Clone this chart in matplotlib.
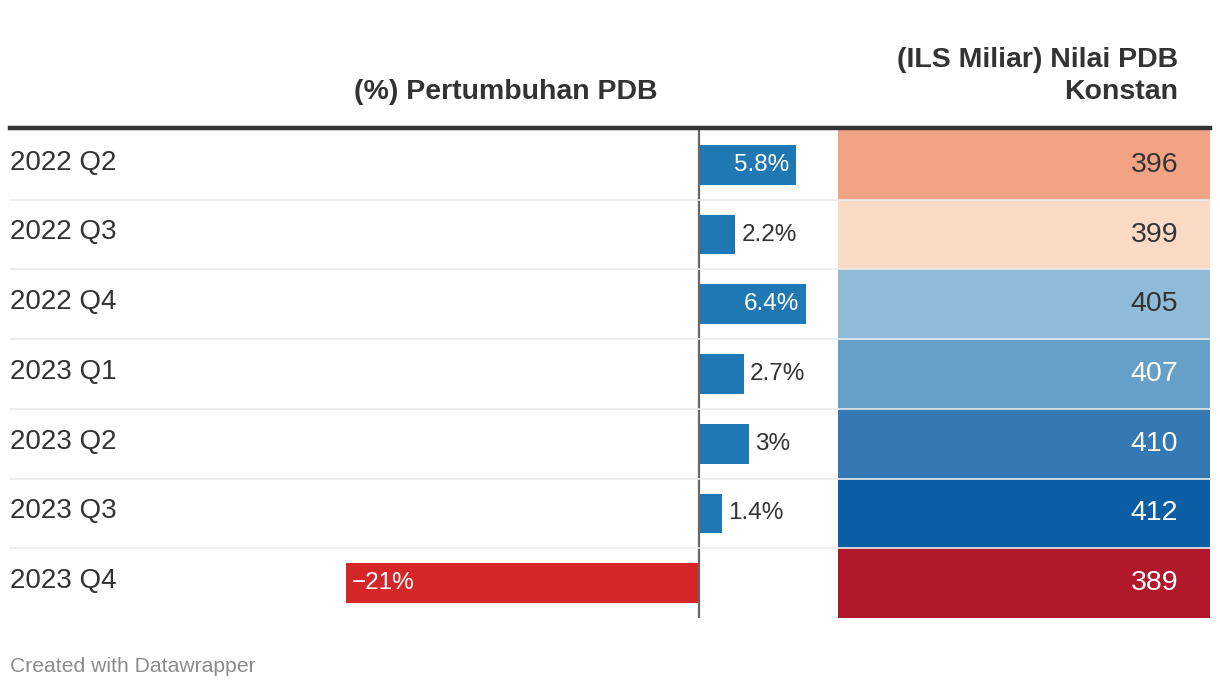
import matplotlib.pyplot as plt
import matplotlib.transforms as mtransforms

plt.rcParams['font.family'] = ['Liberation Sans', 'DejaVu Sans']

# data
quarters = ["2022 Q2", "2022 Q3", "2022 Q4", "2023 Q1", "2023 Q2", "2023 Q3", "2023 Q4"]
growth = [5.8, 2.2, 6.4, 2.7, 3.0, 1.4, -21.0]
growth_labels = ["5.8%", "2.2%", "6.4%", "2.7%", "3%", "1.4%", "\u221221%"]
gdp_value = [396, 399, 405, 407, 410, 412, 389]

# styles
heat_colors = ["#f2a384", "#f8dac5", "#8fbbd9", "#66a0c8", "#3479b3", "#0b5ea3", "#b2182b"]
heat_text = ["#333333", "#333333", "#333333", "#ffffff", "#ffffff", "#ffffff", "#ffffff"]
pos_color = "#1f77b4"
neg_color = "#d62728"
dark = "#333333"

W, H = 1220, 690
fig = plt.figure(figsize=(W / 100, H / 100), dpi=100)

top, bottom = 130, 618
def fx(px):
    return px / W
fy_bot = (H - bottom) / H
fh = (bottom - top) / H

# bar column
ax = fig.add_axes([fx(346), fy_bot, fx(838 - 346), fh])
ax.set_xlim(-21, 8.31)
ax.set_ylim(len(quarters) - 0.5, -0.5)
ax.axis("off")
rows = list(range(len(quarters)))
colors = [pos_color if v >= 0 else neg_color for v in growth]
ax.barh(rows, growth, height=0.57, color=colors, zorder=2)
ax.axvline(0, color="#666666", lw=1.6, zorder=3)

for i, (v, lab) in enumerate(zip(growth, growth_labels)):
    if v < 0:
        ax.annotate(lab, (v, i), xytext=(4, 0), textcoords="offset points",
                    ha="left", va="center", color="white", fontsize=17.5)
    elif v > 4:
        ax.annotate(lab, (v, i), xytext=(-5, 0), textcoords="offset points",
                    ha="right", va="center", color="white", fontsize=17.5)
    else:
        ax.annotate(lab, (v, i), xytext=(4.5, 0), textcoords="offset points",
                    ha="left", va="center", color=dark, fontsize=17.5)

# heatmap column
hx = fig.add_axes([fx(838), fy_bot, fx(1210 - 838), fh])
hx.set_xlim(0, 1)
hx.set_ylim(len(quarters) - 0.5, -0.5)
hx.axis("off")
hx.barh(rows, [1] * len(rows), height=1.0, color=heat_colors)
for i, (v, c) in enumerate(zip(gdp_value, heat_text)):
    hx.annotate(str(v), (1, i), xytext=(-23, 0), textcoords="offset points",
                ha="right", va="center", color=c, fontsize=20.5)

# row labels and separators
tr = mtransforms.blended_transform_factory(fig.transFigure, ax.transData)
for i, q in enumerate(quarters):
    fig.text(fx(10), i - 0.03, q, transform=tr, ha="left", va="center", color=dark, fontsize=20)
for i in range(1, len(quarters)):
    fig.add_artist(plt.Line2D([fx(10), fx(1210)], [i - 0.5, i - 0.5], transform=tr,
                              color="#ebebeb", lw=1.2, zorder=5))

# header
fig.add_artist(plt.Line2D([fx(10), fx(1210)], [1 - 127.5 / H] * 2, color=dark, lw=3.2))
fig.text(fx(658), 1 - 92 / H, "(%) Pertumbuhan PDB", ha="right", va="center",
         fontsize=20.5, fontweight="bold", color=dark)
fig.text(fx(1178), 1 - 76 / H, "(ILS Miliar) Nilai PDB\nKonstan", ha="right", va="center",
         fontsize=20.5, fontweight="bold", color=dark, linespacing=1.3)

fig.text(fx(10), 1 - 666 / H, "Created with Datawrapper", ha="left", va="center",
         fontsize=15.2, color="#8c8c8c")

fig.savefig("out.png", dpi=100)
